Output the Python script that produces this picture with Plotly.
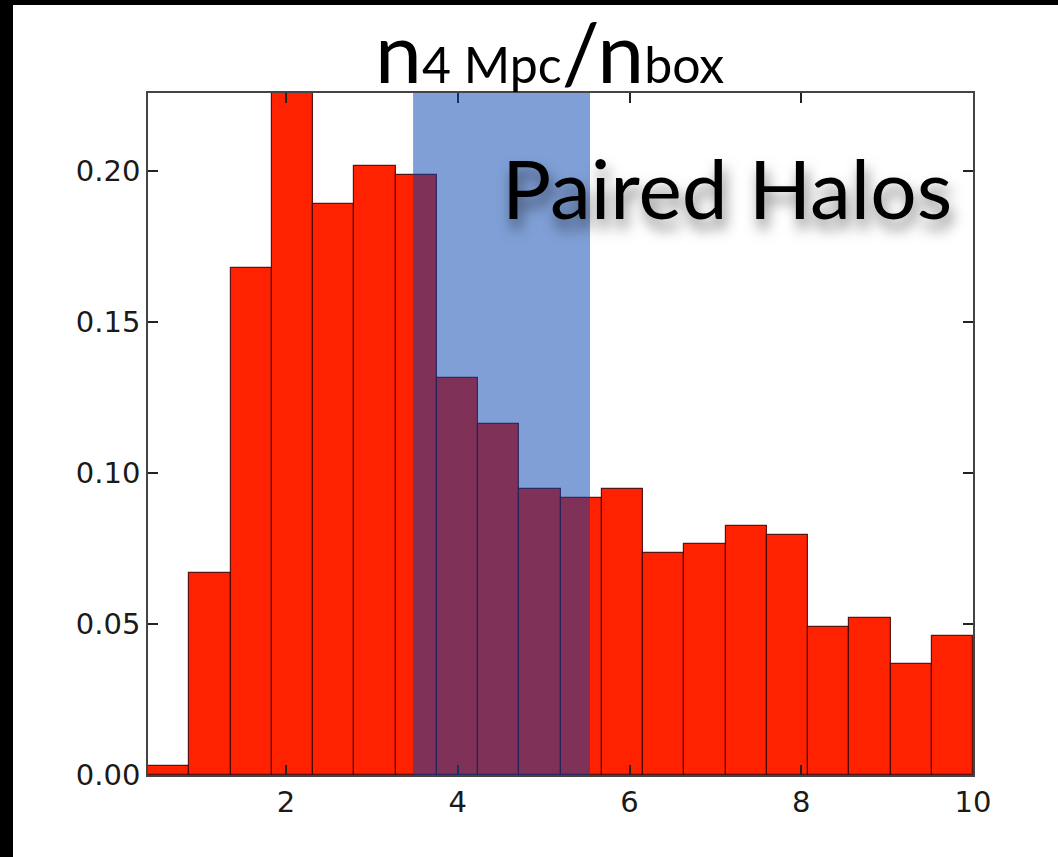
import numpy as np
import plotly.graph_objects as go

# Histogram of n(4 Mpc)/n(box): 20 equal-width bins between the data limits
x_min, x_max = 0.393, 10.0
n_bins = 20
bin_values = [0.003, 0.067, 0.168, 0.2258, 0.189, 0.2017, 0.1987, 0.1315,
              0.1162, 0.0947, 0.0916, 0.0946, 0.0735, 0.0765, 0.0825,
              0.0795, 0.049, 0.052, 0.0368, 0.046]

# Highlighted interval for the paired halos
span_lo, span_hi = 3.48, 5.54

x_ticks = [2, 4, 6, 8, 10]
y_ticks = [0.00, 0.05, 0.10, 0.15, 0.20]

edges = np.linspace(x_min, x_max, n_bins + 1)
centers = 0.5 * (edges[:-1] + edges[1:])
widths = np.diff(edges)

W, H = 1058, 857
L, R, T, B = 148, 85, 93, 82
pw, ph = W - L - R, H - T - B


def px_x(p):
    return (p - L) / pw


def px_y(p):
    return (H - B - p) / ph


fig = go.Figure()
fig.add_trace(go.Bar(
    x=centers, y=bin_values, width=widths,
    marker=dict(color="#ff2200", line=dict(color="rgba(60,0,0,0.85)", width=1.2)),
    hoverinfo="skip",
))

shapes = [
    # black frame strips on the left and top of the page
    dict(type="rect", xref="paper", yref="paper",
         x0=px_x(0), x1=px_x(13), y0=px_y(H), y1=px_y(0),
         fillcolor="black", line=dict(width=0), layer="below"),
    dict(type="rect", xref="paper", yref="paper",
         x0=px_x(0), x1=px_x(W), y0=px_y(5), y1=px_y(0),
         fillcolor="black", line=dict(width=0), layer="below"),
    # shaded interval
    dict(type="rect", xref="x", yref="paper",
         x0=span_lo, x1=span_hi, y0=0, y1=1,
         fillcolor="rgba(0,64,173,0.5)", line=dict(width=0), layer="above"),
]

sub = "<span style='font-size:50px'>{}</span>"
annotations = [
    dict(xref="paper", yref="paper", x=px_x(549), y=px_y(50),
         xanchor="center", yanchor="middle", showarrow=False,
         text="n" + sub.format("4 Mpc") + "/n" + sub.format("box"),
         font=dict(family="Lato", size=84, color="black")),
    dict(xref="paper", yref="paper", x=px_x(727), y=px_y(187),
         xanchor="center", yanchor="middle", showarrow=False,
         text="Paired Halos",
         font=dict(family="Lato", size=82, color="black",
                   shadow="3px 10px 14px rgba(0,0,0,0.5)")),
]

axis_common = dict(
    showline=True, linecolor="#444", linewidth=1.5, mirror="ticks",
    ticks="inside", ticklen=10, tickwidth=1.5, tickcolor="#222",
    showgrid=False, zeroline=False,
    tickfont=dict(family="DejaVu Sans", size=29, color="#1a1a1a"),
)

fig.update_layout(
    width=W, height=H,
    margin=dict(l=L, r=R, t=T, b=B, pad=0),
    paper_bgcolor="white", plot_bgcolor="white",
    showlegend=False, bargap=0,
    shapes=shapes, annotations=annotations,
    xaxis=dict(range=[x_min, x_max], tickvals=x_ticks,
               ticktext=[str(v) for v in x_ticks], **axis_common),
    yaxis=dict(range=[0, max(bin_values)], tickvals=y_ticks,
               ticktext=[f"{v:.2f}" for v in y_ticks], **axis_common),
)

fig.write_html("out.html")
